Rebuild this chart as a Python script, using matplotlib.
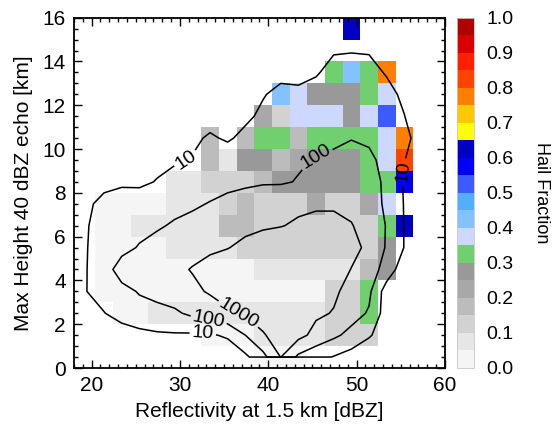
import numpy as np
import matplotlib
matplotlib.use("Agg")
import matplotlib.pyplot as plt
from matplotlib.colors import ListedColormap, BoundaryNorm
from matplotlib.ticker import MultipleLocator

N = np.nan

# 2 dBZ x 1 km bins
x_edges = np.arange(18.4, 58.41, 2.0)
y_edges = np.arange(0.0, 16.01, 1.0)
x_mid = 0.5 * (x_edges[:-1] + x_edges[1:])
y_mid = 0.5 * (y_edges[:-1] + y_edges[1:])

# hail fraction per bin, lowest row first (NaN = no data)
hail_frac = np.array([
    [N, N, N, N, N, N, N, N, N, N, .02, .02, .02, N, N, N, N, N, N, N],
    [N, N, N, N, N, N, N, .02, .02, .02, .07, .07, .07, .07, .12, .12, .12, N, N, N],
    [N, N, .02, .02, .07, .07, .07, .07, .07, .07, .07, .07, .07, .07, .12, .12, .32, N, N, N],
    [N, .02, .02, .02, .02, .02, .02, .02, .02, .02, .02, .02, .02, .02, .12, .12, .32, N, N, N],
    [N, .02, .02, .02, .02, .02, .02, .02, .02, .02, .07, .07, .07, .07, .07, .07, .17, .27, N, N],
    [N, .02, .02, .02, .02, .07, .07, .07, .07, .12, .12, .12, .12, .12, .12, .12, .12, .27, N, N],
    [N, .02, .02, .07, .07, .07, .07, .07, .17, .17, .12, .12, .12, .12, .12, .12, .12, .32, .62, N],
    [N, .02, .02, .02, .02, .07, .07, .07, .12, .17, .12, .12, .12, .22, .12, .12, .22, .37, N, N],
    [N, N, N, N, N, .07, .07, .12, .12, .12, .17, .27, .27, .27, .27, .27, .32, .32, .57, N],
    [N, N, N, N, N, N, N, .17, .07, .27, .27, .17, .22, .27, .27, .27, .32, .37, .82, N],
    [N, N, N, N, N, N, N, .17, N, .17, .32, .32, .17, .32, .32, .32, .32, .37, .77, N],
    [N, N, N, N, N, N, N, N, N, N, .22, .12, .37, .37, .37, .27, .37, .52, N, N],
    [N, N, N, N, N, N, N, N, N, N, N, .42, .37, .27, .27, .27, .32, .37, N, N],
    [N, N, N, N, N, N, N, N, N, N, N, N, N, N, .32, .42, .32, .77, N, N],
    [N] * 20,
    [N] * 15 + [.62] + [N] * 4,
])

# log10 of number of samples per bin, lowest row first
log_count = np.array([
    [0, 0, 0, 0, 0, 0, 0, 0, .5, .8, 1.7, 3.02, 1.8, 1.3, .95, .6, .3, .1, 0, 0],
    [0, .1, .27, .68, .87, .9, .87, .92, 1.1, 2.0, 2.9, 3.5, 3.3, 2.7, 2.2, 1.7, 1.1, .5, .1, 0],
    [.6, .95, 1.6, 1.75, 1.7, 1.85, 2.2, 2.5, 2.85, 3.15, 3.5, 3.7, 3.4, 3.15, 2.95, 2.4, 1.9, .5, .2, 0],
    [.98, 1.6, 1.8, 2.05, 2.3, 2.5, 2.8, 3.1, 3.4, 3.6, 3.8, 3.85, 3.7, 3.5, 3.15, 2.7, 2.2, .5, .3, 0],
    [.97, 1.7, 2.3, 2.5, 2.65, 2.8, 3.05, 3.3, 3.5, 3.65, 3.75, 3.75, 3.7, 3.55, 3.35, 2.98, 2.5, 1.6, .4, 0],
    [.95, 1.6, 1.8, 2.05, 2.3, 2.5, 2.7, 2.85, 2.97, 3.2, 3.4, 3.5, 3.5, 3.45, 3.35, 3.2, 2.85, 1.9, .97, 0],
    [.9, 1.6, 1.7, 1.8, 1.9, 2.1, 2.3, 2.5, 2.65, 2.8, 2.9, 2.97, 3.1, 3.2, 3.2, 3.05, 2.6, 1.95, .97, 0],
    [.8, 1.3, 1.45, 1.55, 1.65, 1.75, 1.85, 2.05, 2.3, 2.5, 2.65, 2.75, 2.85, 2.9, 2.9, 2.75, 2.4, 1.85, .95, 0],
    [.2, .7, .85, .8, 1.05, 1.3, 1.5, 1.6, 1.7, 1.8, 1.9, 1.9, 2.05, 2.3, 2.45, 2.5, 2.3, 1.85, .9, 0],
    [0, .3, .5, .6, .75, .9, 1.05, 1.3, 1.45, 1.55, 1.65, 1.75, 1.9, 2.05, 2.15, 2.2, 2.2, 1.7, 1.05, 0],
    [0, .2, .3, .4, .5, .6, .85, 1.1, .9, 1.2, 1.35, 1.45, 1.55, 1.7, 1.85, 1.98, 1.85, 1.6, 1.3, .5],
    [0, .1, .2, .3, .4, .5, .6, .7, .6, .85, 1.15, 1.3, 1.4, 1.5, 1.6, 1.65, 1.55, 1.4, 1.02, .3],
    [0, 0, .1, .2, .3, .4, .5, .5, .55, .7, .95, 1.2, 1.25, 1.35, 1.5, 1.55, 1.5, 1.3, .8, .1],
    [0, 0, 0, .1, .2, .2, .3, .3, .4, .5, .6, .8, .65, .91, 1.3, 1.4, 1.3, .92, .5, 0],
    [0, 0, 0, 0, 0, 0, .1, .1, .2, .3, .4, .5, .5, .5, .925, .95, .93, .6, .3, 0],
    [0] * 13 + [.2, .4, .6, .4, .2, 0, 0],
])

count_levels = [1, 2, 3]
count_names = {1: "10", 2: "100", 3: "1000"}

frac_bounds = np.linspace(0, 1, 21)
frac_colors = ["#f5f5f5", "#e6e6e6", "#d2d2d2", "#bcbcbc", "#a8a8a8", "#999999",
               "#70d070", "#ccd8ff", "#84c2ff", "#50b0ff", "#3c5aff", "#0000f5",
               "#0000c4", "#ffff00", "#ffc800", "#ff8000", "#ff4400", "#ff1e00",
               "#d80000", "#b00000"]
cbar_ticks = np.round(np.arange(0, 1.01, 0.1), 1)

plt.rcParams["font.family"] = ["Liberation Sans", "DejaVu Sans"]
plt.rcParams["font.size"] = 15

fig = plt.figure(figsize=(5.53, 4.24), dpi=100)
ax = fig.add_axes([74 / 553, 56 / 424, 371 / 553, 350.3 / 424])
cax = fig.add_axes([457 / 553, 56 / 424, 17 / 553, 350.3 / 424])

cmap = ListedColormap(frac_colors)
norm = BoundaryNorm(frac_bounds, cmap.N)
mesh = ax.pcolormesh(x_edges, y_edges, np.ma.masked_invalid(hail_frac),
                     cmap=cmap, norm=norm, edgecolors="none", antialiased=False)

# no samples below the lowest bin centre: close the contours along the bottom
cont_y = np.r_[0.45, y_mid]
cont_z = np.vstack([np.full(len(x_mid), -30.0), log_count])

# one contour set per level so each can get its own hand-placed labels
label_spots = {1: [(30.8, 9.4), (32.6, 1.7), (56.3, 8.9)],
               2: [(45.4, 9.6), (33.2, 2.1)],
               3: [(36.8, 2.7)]}
for lev in count_levels:
    cs = ax.contour(x_mid, cont_y, cont_z, levels=[lev],
                    colors="black", linewidths=1.1)
    ax.clabel(cs, manual=label_spots[lev], fmt=count_names,
              fontsize=14, inline=True, inline_spacing=3)

ax.set_xlim(18, 60)
ax.set_ylim(0, 16)
ax.xaxis.set_major_locator(MultipleLocator(10))
ax.xaxis.set_minor_locator(MultipleLocator(1))
ax.yaxis.set_major_locator(MultipleLocator(2))
ax.yaxis.set_minor_locator(MultipleLocator(0.5))
ax.tick_params(which="both", direction="in", top=True, right=True, width=1)
ax.tick_params(which="major", length=6, pad=6)
ax.tick_params(which="minor", length=3)
for sp in ax.spines.values():
    sp.set_linewidth(1.3)
ax.set_xlabel("Reflectivity at 1.5 km [dBZ]", labelpad=5)
ax.set_ylabel("Max Height 40 dBZ echo [km]", labelpad=7)

ylabels = ax.get_yticklabels()
ylabels[0].set_va("bottom")
ylabels[-1].set_va("top")

cb = fig.colorbar(mesh, cax=cax, ticks=cbar_ticks, format="%.1f")
cb.outline.set_edgecolor("#c8c8c8")
cb.outline.set_linewidth(0.6)
cax.minorticks_off()
cax.tick_params(which="both", length=0, pad=9, labelsize=14)
cb.set_label("Hail Fraction", rotation=270, labelpad=26, fontsize=13)

fig.savefig("out.png", dpi=100)
